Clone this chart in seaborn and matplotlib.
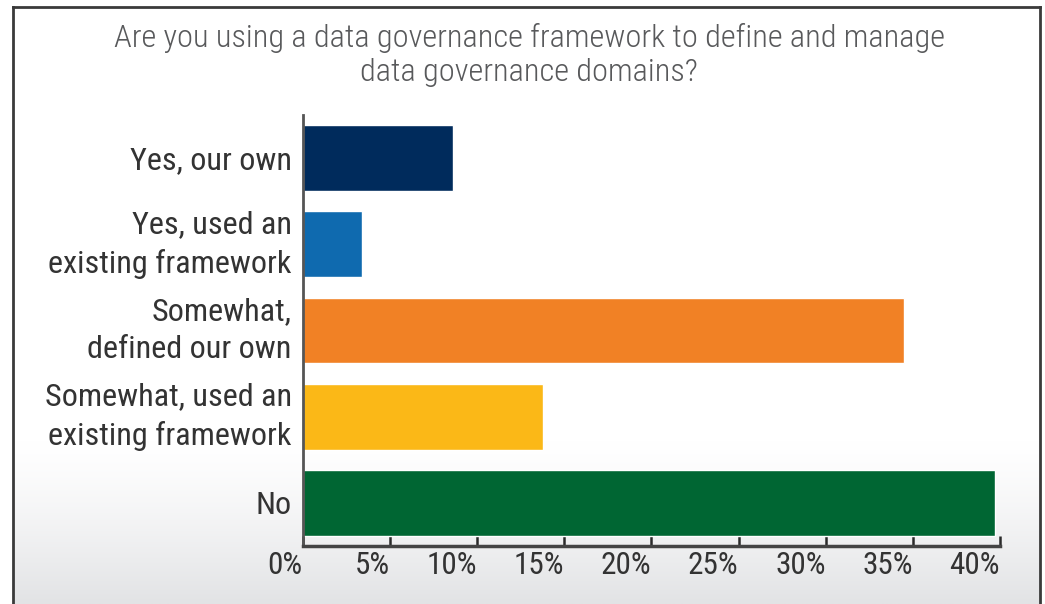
import numpy as np
import pandas as pd
import matplotlib
matplotlib.use("Agg")
import matplotlib.pyplot as plt
from matplotlib.lines import Line2D
from matplotlib.ticker import FuncFormatter
import seaborn as sns

# Survey responses (share of respondents, %)
categories = [
    "Yes, our own",
    "Yes, used an\nexisting framework",
    "Somewhat,\ndefined our own",
    "Somewhat, used an\nexisting framework",
    "No",
]
shares = [8.6, 3.4, 34.5, 13.8, 39.7]
bar_colors = ["#002B5C", "#0F6AAF", "#F18125", "#FBB817", "#006633"]
x_ticks = [0, 5, 10, 15, 20, 25, 30, 35, 40]
title = "Are you using a data governance framework to define and manage\ndata governance domains?"

sns.set_theme(style="white")
plt.rcParams["font.family"] = ["Roboto Condensed", "DejaVu Sans"]
plt.rcParams["font.stretch"] = "condensed"

W, H = 1045, 604
fig = plt.figure(figsize=(W / 100, H / 100), dpi=100)
fig.patch.set_facecolor("white")

# Backdrop: white panel fading to light grey at the bottom, with a frame
bg = fig.add_axes([0, 0, 1, 1], zorder=0)
bg.set_xlim(0, W)
bg.set_ylim(H, 0)
bg.axis("off")
rows = np.linspace(0, H, 400)
fade = np.clip((rows - 440) / (H - 440), 0, 1) ** 1.3
top_c = np.array([1.0, 1.0, 1.0])
bot_c = np.array([0xE2, 0xE3, 0xE5]) / 255
grad = top_c[None, :] * (1 - fade[:, None]) + bot_c[None, :] * fade[:, None]
bg.imshow(grad[:, None, :].repeat(2, axis=1), extent=[12.5, 1040, H, 7],
          aspect="auto", interpolation="bilinear", zorder=0)
frame_kw = dict(color="#3a3a3a", lw=2.0, solid_capstyle="projecting", zorder=2)
bg.add_line(Line2D([12.5, 12.5], [7, H + 5], **frame_kw))
bg.add_line(Line2D([12.5, 1040], [7, 7], **frame_kw))
bg.add_line(Line2D([1040, 1040], [7, H + 5], **frame_kw))

# Bar chart
left, right = 302.8 / W, 1000 / W
bottom, top = 1 - 546 / H, 1 - 115 / H
ax = fig.add_axes([left, bottom, right - left, top - bottom], zorder=1)
ax.patch.set_alpha(0)

df = pd.DataFrame({"category": categories, "share": shares})
sns.barplot(data=df, x="share", y="category", hue="category",
            palette=bar_colors, legend=False, orient="h",
            width=0.765, saturation=1, ax=ax)

ax.set_xlim(0, 40)
ax.set_ylim(4.5, -0.5)
ax.set_xticks(x_ticks)
ax.xaxis.set_major_formatter(FuncFormatter(lambda v, _: f"{v:.0f}%"))
ax.set_yticks(range(len(categories)), labels=categories, linespacing=1.42,
              fontsize=23.2, color="#333333")
# two-line labels are centred on their block, single lines on the baseline
for lbl in ax.get_yticklabels():
    lbl.set_verticalalignment("center" if "\n" in lbl.get_text() else "center_baseline")
ax.set_xlabel("")
ax.set_ylabel("")

for side in ("top", "right"):
    ax.spines[side].set_visible(False)
ax.spines["left"].set_color("#555555")
ax.spines["left"].set_linewidth(2.0)
ax.spines["bottom"].set_color("#444444")
ax.spines["bottom"].set_linewidth(2.5)

ax.tick_params(axis="x", direction="in", length=7, width=1.8, color="#2a2a2a",
               pad=3.5, labelsize=22.5, labelcolor="#333333", bottom=True)
ax.tick_params(axis="y", length=0, pad=8)
for lbl in ax.get_xticklabels():
    lbl.set_horizontalalignment("right")

fig.text(529 / W, 1 - 55 / H, title, ha="center", va="center",
         fontsize=23.3, fontweight="light", color="#58595B",
         linespacing=1.25, zorder=3)

fig.savefig("out.png", dpi=100, facecolor=fig.get_facecolor())
